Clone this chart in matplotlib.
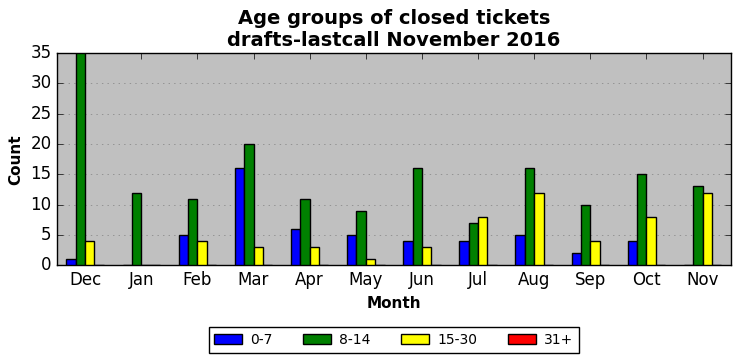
import numpy as np
import matplotlib
matplotlib.use('Agg')
import matplotlib.pyplot as plt

months = ['Dec', 'Jan', 'Feb', 'Mar', 'Apr', 'May', 'Jun', 'Jul', 'Aug', 'Sep', 'Oct', 'Nov']
age_0_7 = [1, 0, 5, 16, 6, 5, 4, 4, 5, 2, 4, 0]
age_8_14 = [35, 12, 11, 20, 11, 9, 16, 7, 16, 10, 15, 13]
age_15_30 = [4, 0, 4, 3, 3, 1, 3, 8, 12, 4, 8, 12]
age_31_plus = [0, 0, 0, 0, 0, 0, 0, 0, 0, 0, 0, 0]

series = [('0-7', age_0_7, 'blue'),
          ('8-14', age_8_14, 'green'),
          ('15-30', age_15_30, 'yellow'),
          ('31+', age_31_plus, 'red')]

plt.style.use('classic')
fig = plt.figure(figsize=(7.41, 3.61), dpi=100)
fig.patch.set_facecolor('white')
ax = fig.add_axes([0.077, 0.265, 0.909, 0.588])
ax.set_facecolor('#c0c0c0')

x = np.arange(len(months))
width = 0.167
for i, (name, vals, color) in enumerate(series):
    ax.bar(x + (i - 1.5) * width, vals, width,
           color=color, edgecolor='black', linewidth=1, label=name, zorder=3)

ax.set_xlim(-0.5, 11.5)
ax.set_ylim(0, 35)
ax.set_xticks(x)
ax.set_xticklabels(months)
ax.set_yticks(range(0, 36, 5))
ax.tick_params(labelsize=12)
ax.yaxis.grid(True, linestyle=':', color='gray', zorder=0)
ax.set_axisbelow(True)

ax.set_xlabel('Month', fontsize=11, fontweight='bold')
ax.set_ylabel('Count', fontsize=11, fontweight='bold')
ax.set_title('Age groups of closed tickets\ndrafts-lastcall November 2016',
             fontsize=14, fontweight='bold')

ax.legend(loc='upper center', bbox_to_anchor=(0.5, -0.26), ncol=4, fontsize=10,
          frameon=True, handlelength=2, columnspacing=2.2, handletextpad=0.6)

fig.savefig('out.png', dpi=100)
